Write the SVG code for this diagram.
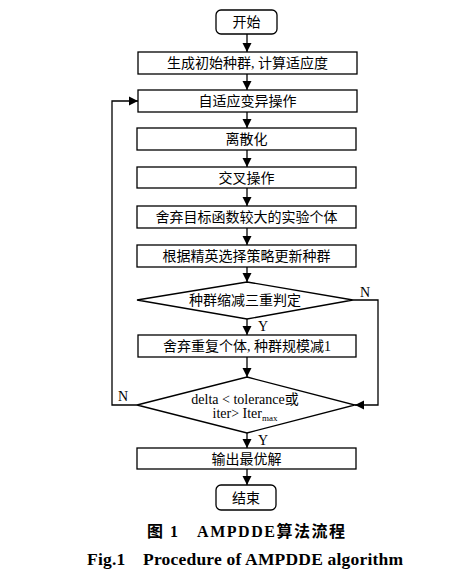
<svg xmlns="http://www.w3.org/2000/svg" width="469" height="576" viewBox="0 0 469 576">
<defs>
<marker id="ah" markerWidth="10" markerHeight="10" refX="9" refY="5" orient="auto" markerUnits="userSpaceOnUse">
<path d="M0,0.5 L9,5 L0,9.5 Z" fill="#000"/>
</marker>
<style>
.box{fill:#fff;stroke:#000;stroke-width:1.3}
.t{font-family:"Liberation Serif","Noto Sans CJK SC",serif;font-size:14px;fill:#000;text-anchor:middle}
.lbl{font-family:"Liberation Serif",serif;font-size:14px;fill:#000}
.c{fill:none;stroke:#000;stroke-width:1.3}
.cap{font-family:"Liberation Serif","Noto Sans CJK SC",serif;font-weight:bold;fill:#000}
</style>
</defs>
<rect width="469" height="576" fill="#fff"/>
<g id="connectors">
<line class="c" x1="247" y1="34" x2="247" y2="52" marker-end="url(#ah)"/>
<line class="c" x1="247" y1="74" x2="247" y2="90" marker-end="url(#ah)"/>
<line class="c" x1="247" y1="112" x2="247" y2="128" marker-end="url(#ah)"/>
<line class="c" x1="247" y1="150" x2="247" y2="167" marker-end="url(#ah)"/>
<line class="c" x1="247" y1="188" x2="247" y2="206" marker-end="url(#ah)"/>
<line class="c" x1="247" y1="228" x2="247" y2="245" marker-end="url(#ah)"/>
<line class="c" x1="247" y1="267" x2="247" y2="282" marker-end="url(#ah)"/>
<line class="c" x1="247" y1="319" x2="247" y2="335" marker-end="url(#ah)"/>
<line class="c" x1="247" y1="357" x2="247" y2="377" marker-end="url(#ah)"/>
<line class="c" x1="247" y1="433" x2="247" y2="448" marker-end="url(#ah)"/>
<line class="c" x1="247" y1="469" x2="247" y2="485" marker-end="url(#ah)"/>
<polyline class="c" points="353,300 378,300 378,405 355,405" marker-end="url(#ah)"/>
<polyline class="c" points="137,405 112,405 112,101 138,101" marker-end="url(#ah)"/>
<text class="lbl" x="360" y="297">N</text>
<text class="lbl" x="118" y="401">N</text>
<text class="lbl" x="258" y="331">Y</text>
<text class="lbl" x="258" y="445">Y</text>
</g>
<g id="start">
<rect class="box" x="216" y="10" width="61" height="24" rx="5"/>
<text class="t" x="246.5" y="27">开始</text>
</g>
<g id="init">
<rect class="box" x="138" y="52" width="219" height="22"/>
<text class="t" x="247.5" y="68">生成初始种群, 计算适应度</text>
</g>
<g id="mutation">
<rect class="box" x="138" y="90" width="219" height="22"/>
<text class="t" x="247.5" y="106">自适应变异操作</text>
</g>
<g id="discretize">
<rect class="box" x="137" y="128" width="219" height="22"/>
<text class="t" x="246.5" y="144">离散化</text>
</g>
<g id="crossover">
<rect class="box" x="137" y="167" width="219" height="21"/>
<text class="t" x="246.5" y="182.5">交叉操作</text>
</g>
<g id="discard">
<rect class="box" x="137" y="206" width="219" height="22"/>
<text class="t" x="246.5" y="222">舍弃目标函数较大的实验个体</text>
</g>
<g id="elite">
<rect class="box" x="137" y="245" width="219" height="22"/>
<text class="t" x="246.5" y="261">根据精英选择策略更新种群</text>
</g>
<g id="decision1">
<polygon class="box" points="247,282 353,300 247,319 137,300"/>
<text class="t" x="245" y="305">种群缩减三重判定</text>
</g>
<g id="reduce">
<rect class="box" x="138" y="335" width="218" height="22"/>
<text class="t" x="247" y="351">舍弃重复个体, 种群规模减1</text>
</g>
<g id="decision2">
<polygon class="box" points="247,377 355,405 247,433 137,405"/>
<text class="t" x="245" y="404">delta &lt; tolerance或</text>
<text class="t" x="245" y="418">iter&gt; Iter<tspan font-size="9" dy="3">max</tspan></text>
</g>
<g id="output">
<rect class="box" x="137" y="448" width="219" height="21"/>
<text class="t" x="246.5" y="463.5">输出最优解</text>
</g>
<g id="end">
<rect class="box" x="216" y="485" width="60" height="25" rx="5"/>
<text class="t" x="246" y="502.5">结束</text>
</g>
<g id="caption">
<text class="cap" x="147" y="537" font-size="16" textLength="198" lengthAdjust="spacing">图 1　AMPDDE算法流程</text>
<text class="cap" x="87" y="565" font-size="17.5" textLength="316" lengthAdjust="spacing">Fig.1　Procedure of AMPDDE algorithm</text>
</g>
</svg>
